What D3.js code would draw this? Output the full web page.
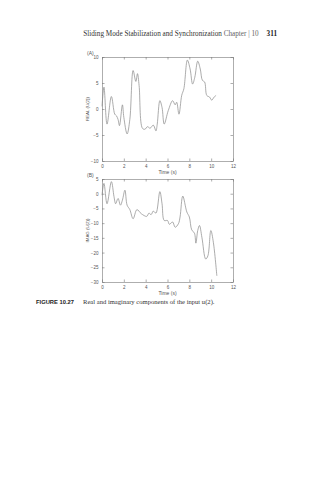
<!DOCTYPE html>
<html>
<head>
<meta charset="utf-8">
<script src="https://cdn.jsdelivr.net/npm/d3@7"></script>
<style>
  body { margin: 0; background: #fff; }
  svg text { fill: #555; }
</style>
</head>
<body>
<div class="chart"></div>
<script>
// data
var timeA = [0, 0.18, 0.46, 0.86, 1.17, 1.32, 1.47, 1.6, 1.87, 2.0, 2.3, 2.55, 2.85, 3.1, 3.25, 3.4, 3.7, 3.93, 4.17, 4.4, 4.7, 4.94, 5.06, 5.3, 5.5, 5.7, 6.07, 6.47, 6.7, 6.84, 7.05, 7.3, 7.5, 7.82, 8.07, 8.3, 8.5, 8.77, 9.0, 9.2, 9.4, 9.6, 9.85, 10.05, 10.27, 10.45];
var realU = [0.5, 4.2, -2.9, 2.4, -1.0, -1.3, -2.0, -3.2, 0.8, -1.6, -4.8, -2.0, 7.4, 5.3, 6.8, 4.5, -3.7, -3.9, -3.4, -3.7, -3.1, -4.2, -2.9, 1.6, 0.3, -2.9, -0.3, 1.6, 0.8, 1.3, -1.0, 2.6, 3.9, 9.4, 7.7, 4.8, 6.1, 9.2, 7.7, 5.5, 5.2, 2.6, 2.3, 1.7, 2.3, 2.6];

var timeB = [0, 0.18, 0.46, 0.86, 1.1, 1.25, 1.47, 1.69, 1.87, 2.1, 2.3, 2.55, 2.85, 3.2, 3.6, 4.1, 4.3, 4.5, 4.7, 4.94, 5.3, 5.5, 5.7, 6.0, 6.17, 6.47, 6.7, 7.0, 7.15, 7.4, 7.77, 8.0, 8.22, 8.47, 8.6, 8.77, 8.93, 9.15, 9.5, 9.7, 9.97, 10.2, 10.52];
var imagU = [-0.5, 3.5, -3.4, 4.1, -1.0, -3.4, -1.6, -3.9, -2.2, 1.2, -3.9, -5.4, -8.5, -5.4, -6.8, -7.7, -6.6, -7.1, -5.9, -6.6, 0.7, -3.4, -9.1, -9.1, -10.4, -9.6, -11.4, -10.2, -7.9, -0.8, -6.2, -7.9, -12.3, -13.4, -16.8, -12.5, -10.8, -14.8, -22.2, -21.1, -12.5, -16.5, -27.9];

var xTicks = [0, 2, 4, 6, 8, 10, 12];
var yTicksA = [-10, -5, 0, 5, 10];
var yTicksB = [-30, -25, -20, -15, -10, -5, 0, 5];

var svgWidth = 319;
var svgHeight = 480;

var svg = d3.select(".chart")
  .append("svg")
  .attr("width", svgWidth)
  .attr("height", svgHeight);

// running header
var header = svg.append("text")
  .attr("x", 277)
  .attr("y", 36)
  .attr("text-anchor", "end")
  .style("font-family", "Liberation Serif, serif")
  .style("font-size", "7.2px");
header.append("tspan").style("fill", "#333").text("Sliding Mode Stabilization and Synchronization ");
header.append("tspan").style("fill", "#666").text("Chapter | 10");
header.append("tspan").style("fill", "#222").style("font-weight", "bold").attr("dx", 8).text("311");

var fmt = function(d) { return d < 0 ? "\u2212" + (-d) : d; };

// draws one panel
function drawPanel(left, top, w, h, yDomain, yTicks, xs, ys, tag, ylabel) {
  var g = svg.append("g").attr("transform", `translate(${left}, ${top})`);

  var x = d3.scaleLinear().domain([0, 12]).range([0, w]);
  var y = d3.scaleLinear().domain(yDomain).range([h, 0]);

  var tl = 2.5;
  var bottomAxis = d3.axisBottom(x).tickValues(xTicks).tickSizeInner(-tl).tickSizeOuter(0).tickPadding(4).tickFormat(fmt);
  var topAxis = d3.axisTop(x).tickValues(xTicks).tickSizeInner(-tl).tickSizeOuter(0).tickFormat("");
  var leftAxis = d3.axisLeft(y).tickValues(yTicks).tickSizeInner(-tl).tickSizeOuter(0).tickPadding(3.5).tickFormat(fmt);
  var rightAxis = d3.axisRight(y).tickValues(yTicks).tickSizeInner(-tl).tickSizeOuter(0).tickFormat("");

  var axes = [
    g.append("g").attr("transform", `translate(0, ${h})`).call(bottomAxis),
    g.append("g").call(topAxis),
    g.append("g").call(leftAxis),
    g.append("g").attr("transform", `translate(${w}, 0)`).call(rightAxis)
  ];
  axes.forEach(function(a) {
    a.selectAll("path").attr("stroke", "#777").attr("stroke-width", 0.6);
    a.selectAll("line").attr("stroke", "#777").attr("stroke-width", 0.6);
    a.selectAll("text")
      .style("font-family", "Liberation Sans, sans-serif")
      .style("font-size", "4.5px")
      .attr("fill", "#555");
  });

  var line = d3.line()
    .x(function(d) { return x(d[0]); })
    .y(function(d) { return y(d[1]); })
    .curve(d3.curveCatmullRom.alpha(0.5));

  g.append("path")
    .datum(xs.map(function(t, i) { return [t, ys[i]]; }))
    .attr("fill", "none")
    .attr("stroke", "#888")
    .attr("stroke-width", 0.7)
    .attr("d", line);

  g.append("text")
    .attr("x", w / 2)
    .attr("y", h + 13)
    .attr("text-anchor", "middle")
    .style("font-family", "Liberation Sans, sans-serif")
    .style("font-size", "5px")
    .text("Time (s)");

  g.append("text")
    .attr("x", -15)
    .attr("y", -2)
    .style("font-family", "Liberation Sans, sans-serif")
    .style("font-size", "5px")
    .text(tag);

  g.append("text")
    .attr("transform", `translate(-13.5, ${h / 2}) rotate(-90)`)
    .attr("text-anchor", "middle")
    .style("font-family", "Liberation Sans, sans-serif")
    .style("font-size", "4.4px")
    .text(ylabel);
}

drawPanel(102, 57, 131, 104, [-10, 10], yTicksA, timeA, realU, "(A)", "REAL (U(2))");
drawPanel(102, 179, 131, 103, [-30, 5], yTicksB, timeB, imagU, "(B)", "IMAG (U(2))");

// caption
var caption = svg.append("text")
  .attr("x", 36)
  .attr("y", 304)
  .style("font-family", "Liberation Serif, serif")
  .style("font-size", "6.6px");
caption.append("tspan").style("fill", "#222").style("font-weight", "bold").style("font-family", "Liberation Sans, sans-serif").style("font-size", "5.8px").text("FIGURE 10.27");
caption.append("tspan").attr("x", 83).style("fill", "#333").text("Real and imaginary components of the input u(2).");
</script>
</body>
</html>
